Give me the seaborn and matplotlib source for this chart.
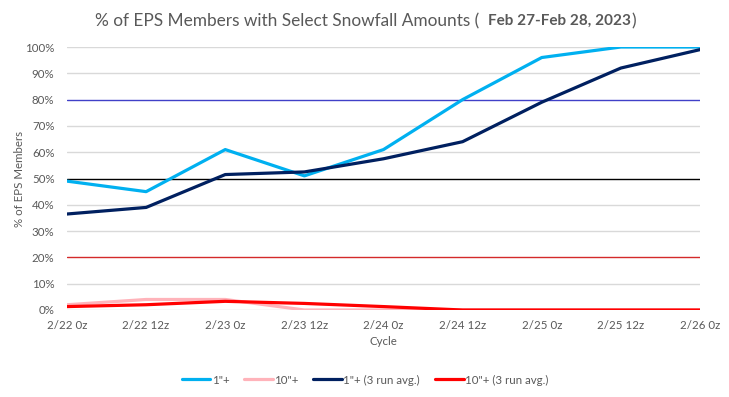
import matplotlib
matplotlib.use("Agg")
import matplotlib.pyplot as plt
import seaborn as sns
import pandas as pd

cycles = ["2/22 0z", "2/22 12z", "2/23 0z", "2/23 12z", "2/24 0z",
          "2/24 12z", "2/25 0z", "2/25 12z", "2/26 0z"]
one_inch = [49, 45, 61, 51, 61, 80, 96, 100, 100]
ten_inch = [2, 4, 4, 0, 0, 0, 0, 0, 0]
one_inch_avg = [36.5, 39, 51.5, 52.5, 57.5, 64, 79, 92, 99]
ten_inch_avg = [1.3, 2, 3.3, 2.5, 1.3, 0, 0, 0, 0]
series_names = ['1"+', '10"+', '1"+ (3 run avg.)', '10"+ (3 run avg.)']
yticks = [0, 10, 20, 30, 40, 50, 60, 70, 80, 90, 100]

colors = ["#00b0f0", "#ffb3ba", "#002060", "#ff0000"]
FONT = ["Lato", "DejaVu Sans"]
GRAY = "#595959"

rows = []
for name, vals in zip(series_names, [one_inch, ten_inch, one_inch_avg, ten_inch_avg]):
    for i, v in enumerate(vals):
        rows.append({"idx": i, "value": v, "series": name})
df = pd.DataFrame(rows)

sns.set_style("white")
plt.rcParams["font.family"] = FONT

fig = plt.figure(figsize=(7.29, 3.97), dpi=100)
W, H = 729, 397
ax = fig.add_axes([67 / W, 1 - 310 / H, (700 - 67) / W, (310 - 47) / H])

# gridlines
for t in yticks:
    if t == 50:
        c = "black"
    elif t == 80:
        c = "#4040c8"
    elif t == 20:
        c = "#d42a2a"
    else:
        c = "#d9d9d9"
    ax.axhline(t, color=c, lw=1.0, zorder=0)

sns.lineplot(data=df, x="idx", y="value", hue="series", hue_order=series_names,
             palette=dict(zip(series_names, colors)), linewidth=2.3, ax=ax,
             legend=False, zorder=3)

ax.set_xlim(0, len(cycles) - 1)
ax.set_ylim(0, 100)
ax.set_xticks(range(len(cycles)))
ax.set_xticklabels(cycles)
ax.set_yticks(yticks)
ax.set_yticklabels([f"{t}%" for t in yticks])
ax.tick_params(axis="both", length=0, labelsize=8.3, colors=GRAY)
ax.tick_params(axis="x", pad=7)
ax.tick_params(axis="y", pad=9)
for s in ax.spines.values():
    s.set_visible(False)
ax.set_xlabel("Cycle", fontsize=8.3, color=GRAY, labelpad=4)
ax.set_ylabel("% of EPS Members", fontsize=8.3, color=GRAY, labelpad=0)

# legend
from matplotlib.lines import Line2D
handles = [Line2D([0], [0], color=c, lw=2.3) for c in colors]
fig.legend(handles, series_names, loc="center", bbox_to_anchor=(365 / W, 1 - 380 / H),
           ncol=4, frameon=False, fontsize=8.3, labelcolor=GRAY, handlelength=2.5,
           handletextpad=0.1, columnspacing=1.3)

# title in pieces
fig.canvas.draw()
r = fig.canvas.get_renderer()
ty = 1 - 21 / H
t1 = fig.text(95 / W, ty, "% of EPS Members with Select Snowfall Amounts ( ",
              fontsize=12.4, color=GRAY, va="center", ha="left")
bb = t1.get_window_extent(r)
t2 = fig.text(bb.x1 / W + 4 / W, ty, "Feb 27-Feb 28, 2023", fontsize=11,
              fontweight="bold", color=GRAY, va="center", ha="left")
bb2 = t2.get_window_extent(r)
fig.text(bb2.x1 / W + 1 / W, ty, ")", fontsize=12.4, color=GRAY, va="center", ha="left")

fig.savefig("out.png", dpi=100)
